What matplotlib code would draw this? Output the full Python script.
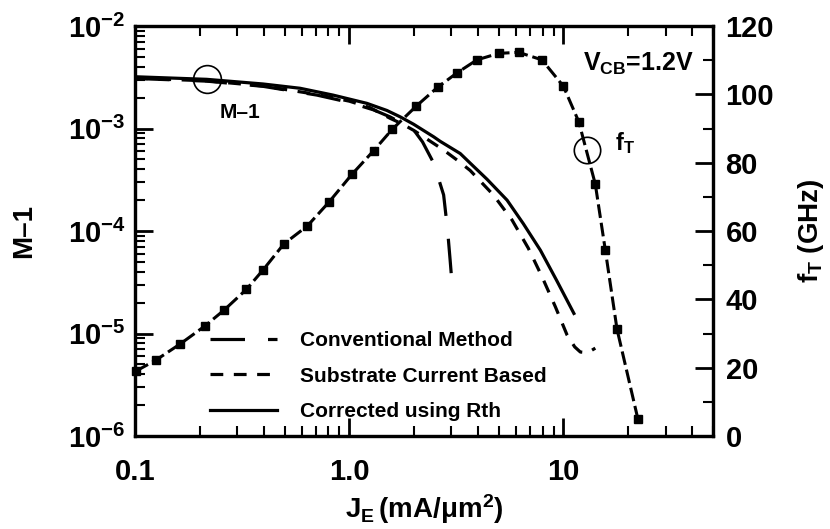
import matplotlib
matplotlib.use('Agg')
import matplotlib.pyplot as plt
from matplotlib.ticker import FixedLocator, FixedFormatter, MultipleLocator, LogLocator, NullFormatter

# fT data (right axis)
je_ft = [0.101, 0.125, 0.163, 0.212, 0.261, 0.331, 0.396, 0.495, 0.638, 0.803, 1.03, 1.30, 1.59,
         2.06, 2.59, 3.19, 3.95, 4.99, 6.18, 7.94, 10.0, 11.8, 14.1, 15.7, 17.8, 22.3]
ft = [19.0, 22.2, 27.0, 32.2, 36.9, 42.9, 48.6, 56.2, 61.5, 68.4, 76.6, 83.5, 89.8,
      96.6, 102.1, 106.3, 110.1, 112.0, 112.3, 110.1, 102.4, 92.0, 73.7, 54.4, 31.3, 4.9]

# M-1, conventional method
je_conv = [0.1, 0.216, 0.396, 0.706, 1.0, 1.3, 1.55, 1.8, 2.03, 2.2, 2.48, 2.76, 2.88, 2.96, 3.02]
m_conv = [3.08e-3, 2.9e-3, 2.58e-3, 2.12e-3, 1.8e-3, 1.52e-3, 1.3e-3, 1.1e-3, 9.3e-4, 7.4e-4,
          4.6e-4, 2.25e-4, 1.02e-4, 5.2e-5, 3.1e-5]

# M-1, substrate current based
je_sub = [0.1, 0.216, 0.396, 0.706, 1.0, 1.25, 1.55, 1.75, 2.0, 2.75, 3.2, 3.67, 4.71, 5.76, 6.86,
          7.94, 9.18, 10.4, 11.3, 12.0, 13.0, 14.1]
m_sub = [3.1e-3, 2.92e-3, 2.6e-3, 2.15e-3, 1.85e-3, 1.6e-3, 1.26e-3, 1.12e-3, 9.6e-4, 6.2e-4,
         4.9e-4, 3.9e-4, 2.25e-4, 1.28e-4, 6.8e-5, 3.6e-5, 1.82e-5, 9.7e-6, 7.4e-6, 6.6e-6,
         6.5e-6, 7.2e-6]

# M-1, corrected using Rth
je_cor = [0.1, 0.216, 0.396, 0.59, 0.84, 1.21, 1.5, 1.73, 2.0, 2.48, 2.66, 3.3, 3.67, 4.4, 5.46,
          6.5, 7.81, 9.3, 11.2]
m_cor = [3.2e-3, 3.02e-3, 2.72e-3, 2.47e-3, 2.12e-3, 1.76e-3, 1.5e-3, 1.3e-3, 1.1e-3, 8.3e-4,
         7.5e-4, 5.7e-4, 4.6e-4, 3.2e-4, 2.0e-4, 1.18e-4, 6.5e-5, 3.3e-5, 1.57e-5]

xticks = [0.1, 1.0, 10]
xticklabels = ['0.1', '1.0', '10']
yticks = [1e-6, 1e-5, 1e-4, 1e-3, 1e-2]
yticklabels = [r'$10^{-6}$', r'$10^{-5}$', r'$10^{-4}$', r'$10^{-3}$', r'$10^{-2}$']

plt.rcParams['font.family'] = 'Liberation Sans'
plt.rcParams['font.weight'] = 'bold'
plt.rcParams['axes.labelweight'] = 'bold'
plt.rcParams['mathtext.fontset'] = 'custom'
plt.rcParams['mathtext.rm'] = 'Liberation Sans:bold'
plt.rcParams['mathtext.it'] = 'Liberation Sans:bold'
plt.rcParams['mathtext.bf'] = 'Liberation Sans:bold'
plt.rcParams['mathtext.default'] = 'bf'

fig = plt.figure(figsize=(8.3, 5.29), dpi=100)
ax = fig.add_axes([0.1627, 0.1758, 0.6964, 0.775])
ax2 = ax.twinx()

lw = 2.3
ax.plot(je_conv, m_conv, color='black', lw=lw, dashes=(10.8, 7.2), label='Conventional Method')
ax.plot(je_sub, m_sub, color='black', lw=lw, dashes=(4, 3.3), label='Substrate Current Based')
ax.plot(je_cor, m_cor, color='black', lw=lw, label='Corrected using Rth')

ax.set_xscale('log')
ax.set_yscale('log')
ax.set_xlim(0.1, 50)
ax.set_ylim(1e-6, 1e-2)

ax2.plot(je_ft, ft, color='black', lw=2.2, dashes=(4.5, 1.6), marker='s', ms=5.5, clip_on=False)
ax2.set_ylim(0, 120)
ax2.set_xlim(0.1, 50)

# circles marking the curves
ax.plot([0.217], [3.04e-3], 'o', ms=20, mfc='none', mec='black', mew=1.2)
ax2.plot([12.9], [83.7], 'o', ms=19, mfc='none', mec='black', mew=1.2)

ax.text(0.249, 1.43e-3, 'M\u20131', fontsize=15, va='center', ha='left')
ax2.text(17.5, 85.8, r'$f_T$', fontsize=17, va='center', ha='left')
ax2.text(12.4, 109, r'$V_{CB}$=1.2V', fontsize=18, va='center', ha='left')

# ticks
ax.xaxis.set_major_locator(FixedLocator(xticks))
ax.xaxis.set_major_formatter(FixedFormatter(xticklabels))
ax.xaxis.set_minor_locator(LogLocator(base=10, subs=range(2, 10)))
ax.xaxis.set_minor_formatter(NullFormatter())
ax.yaxis.set_major_locator(FixedLocator(yticks))
ax.yaxis.set_major_formatter(FixedFormatter(yticklabels))
ax.yaxis.set_minor_locator(LogLocator(base=10, subs=range(2, 10)))
ax.yaxis.set_minor_formatter(NullFormatter())
ax2.yaxis.set_major_locator(MultipleLocator(20))
ax2.yaxis.set_minor_locator(MultipleLocator(10))

ax.tick_params(which='major', direction='in', length=13, width=2, labelsize=21, top=True, pad=7)
ax.tick_params(which='minor', direction='in', length=7, width=1.5, top=True)
ax.tick_params(axis='x', which='major', pad=16)
ax.tick_params(axis='y', right=False)
ax2.tick_params(which='major', direction='in', length=13, width=2, labelsize=21, pad=9)
ax2.tick_params(which='minor', direction='in', length=7, width=1.5)

for a in (ax, ax2):
    for s in a.spines.values():
        s.set_linewidth(2.3)

ax.set_xlabel(r'$J_E\,$(mA/$\mu$m$^2$)', fontsize=20, labelpad=4)
ax.set_ylabel('M\u20131', fontsize=20, labelpad=22)
ax2.set_ylabel(r'$f_T$ (GHz)', fontsize=20, labelpad=16)

ax.legend(loc='upper left', bbox_to_anchor=(0.13, 0.255), frameon=False, fontsize=15,
          handlelength=3.2, handletextpad=1.1, labelspacing=0.78, borderpad=0, borderaxespad=0)

plt.savefig('out.png', dpi=100)
